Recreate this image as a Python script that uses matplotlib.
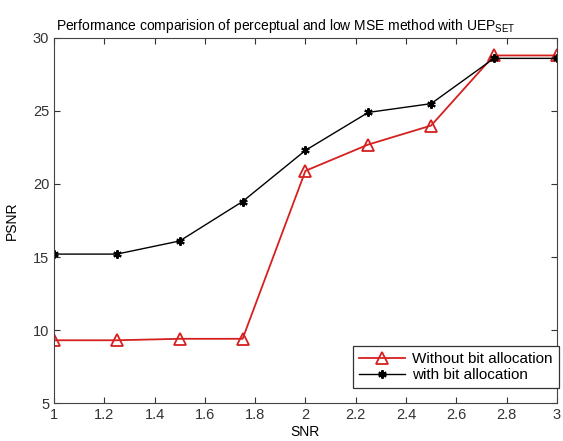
import matplotlib
matplotlib.use("Agg")
import matplotlib.pyplot as plt

plt.rcParams['font.family'] = ['Liberation Sans', 'DejaVu Sans']

snr = [1, 1.25, 1.5, 1.75, 2, 2.25, 2.5, 2.75, 3]
psnr_without = [9.3, 9.3, 9.4, 9.4, 20.9, 22.7, 24.0, 28.8, 28.8]
psnr_with = [15.2, 15.2, 16.1, 18.8, 22.3, 24.9, 25.5, 28.6, 28.6]

fig = plt.figure(figsize=(5.63, 4.41), dpi=100)
ax = fig.add_axes([0.096, 0.086, 0.893, 0.828])

ax.plot(snr, psnr_without, color='#d62020', lw=1.3, marker='^', markersize=8,
        markerfacecolor='none', markeredgecolor='#d62020', markeredgewidth=1.3,
        label='Without bit allocation')
ax.plot(snr, psnr_with, color='black', lw=1.0, marker=(6, 2, 0), markersize=6,
        markeredgewidth=1.5, label='with bit allocation')

ax.set_xlim(1, 3)
ax.set_ylim(5, 30)
ax.set_xticks([1, 1.2, 1.4, 1.6, 1.8, 2, 2.2, 2.4, 2.6, 2.8, 3])
ax.set_xticklabels(['1', '1.2', '1.4', '1.6', '1.8', '2', '2.2', '2.4', '2.6', '2.8', '3'])
ax.set_yticks([5, 10, 15, 20, 25, 30])
ax.tick_params(direction='in', top=True, right=True, labelsize=10.5, length=4,
               color='#333333', labelcolor='#333333')
for s in ax.spines.values():
    s.set_color('#444444')

ax.set_xlabel('SNR', fontsize=10, labelpad=2)
ax.set_ylabel('PSNR', fontsize=10, labelpad=10)
ax.set_title('Performance comparision of perceptual and low MSE method with UEP$_{\\mathregular{SET}}$',
             fontsize=10, pad=6, x=0.46)

leg = ax.legend(loc='lower right', bbox_to_anchor=(1.004, 0.041), fontsize=11,
                fancybox=False, framealpha=1, edgecolor='#333333', borderaxespad=0,
                handlelength=3.0, handletextpad=0.5, labelspacing=0.1, borderpad=0.4)
leg.get_frame().set_linewidth(0.9)

fig.savefig('out.png', dpi=100)
